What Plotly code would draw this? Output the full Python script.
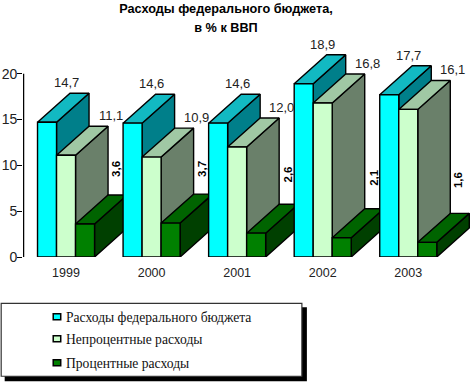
import plotly.graph_objects as go

years = ["1999", "2000", "2001", "2002", "2003"]
total = [14.7, 14.6, 14.6, 18.9, 17.7]
nonint = [11.1, 10.9, 12.0, 16.8, 16.1]
interest = [3.6, 3.7, 2.6, 2.1, 1.6]
names = ["Расходы федерального бюджета", "Непроцентные расходы", "Процентные расходы"]
series = [total, nonint, interest]
front = ["#00FFFF", "#CCFFCC", "#008000"]
top = ["#12B9C2", "#A0C8A4", "#006400"]
side = ["#007F8A", "#6A806A", "#004000"]
BW = 0.2222
DX = 0.38
DY = 3.16
OUT = dict(color="#000000", width=1.4)
L, R, T, B = 23.3, 472.0, 36.6, 256.7
YMAX = 24
XMIN, XMAX = -0.503, 4.745


def px(x):
    return (x - L) / (R - L)


def py(y):
    return (B - y) / (B - T)


def fmt(v):
    return f"{v:.1f}".replace(".", ",")


def poly(xs, ys, color):
    return go.Scatter(x=xs + xs[:1], y=ys + ys[:1], mode="lines", fill="toself", fillcolor=color,
                      line=OUT, hoverinfo="skip", showlegend=False)


fig = go.Figure()
fig.add_trace(go.Scatter(x=[XMIN, XMIN], y=[0, 20], mode="lines", line=dict(color="#000000", width=2.5),
                         hoverinfo="skip", showlegend=False))
annotations = []
for g in range(len(years)):
    for s in range(3):
        v = series[s][g]
        x0 = g + (s - 1.5) * BW
        x1 = x0 + BW
        fig.add_trace(poly([x1, x1 + DX, x1 + DX, x1], [0, DY, v + DY, v], side[s]))
        fig.add_trace(poly([x0, x1, x1 + DX, x0 + DX], [v, v, v + DY, v + DY], top[s]))
        fig.add_trace(poly([x0, x1, x1, x0], [0, 0, v, v], front[s]))
    annotations.append(dict(x=g, y=total[g] + DY, text=fmt(total[g]), yshift=10.5, showarrow=False,
                            yanchor="middle", font=dict(size=13, color="#222222")))
    annotations.append(dict(x=g + 0.52, y=nonint[g] + DY, text=fmt(nonint[g]), yshift=10.5, showarrow=False,
                            yanchor="middle", font=dict(size=13, color="#222222")))
    annotations.append(dict(x=g + 0.59, y=7.4 + 0.6 * interest[g], text="<b>" + fmt(interest[g]) + "</b>",
                            textangle=-90, showarrow=False, font=dict(size=11.5, color="#000000")))

shapes = [
    dict(type="rect", xref="paper", yref="paper", x0=px(5), x1=px(307), y0=py(381), y1=py(307),
         fillcolor="#000000", line=dict(width=0), layer="above"),
    dict(type="rect", xref="paper", yref="paper", x0=px(1.5), x1=px(302), y0=py(376), y1=py(303),
         fillcolor="#FFFFFF", line=dict(color="#333333", width=1.2), layer="above"),
]
for s, yc in enumerate([316.5, 338.5, 362.5]):
    shapes.append(dict(type="rect", xref="paper", yref="paper", x0=px(53.5), x1=px(61), y0=py(yc + 3), y1=py(yc - 3),
                       fillcolor=front[s], line=dict(color="#000000", width=1.5), layer="above"))
    annotations.append(dict(xref="paper", yref="paper", x=px(64), y=py(yc + 0.5), xanchor="left", yanchor="middle",
                            text=names[s], showarrow=False,
                            font=dict(family="Liberation Serif, serif", size=13.6, color="#111111")))

title_span = '<span style="font-size:12.7px">'
fig.update_layout(
    width=472, height=383, margin=dict(l=L, r=472 - R, t=T, b=383 - B, autoexpand=False),
    paper_bgcolor="#FFFFFF", plot_bgcolor="rgba(0,0,0,0)",
    font=dict(family="Liberation Sans, Arial, sans-serif", color="#222222"),
    title=dict(text=f"<b>{title_span}Расходы федерального бюджета,</span><br>{title_span}в % к ВВП</span></b>",
               x=226 / 472, xanchor="center", y=0.970, yanchor="top", pad=dict(t=2),
               font=dict(size=14.6, color="#000000")),
    xaxis=dict(range=[XMIN, XMAX], tickmode="array", tickvals=list(range(5)), ticktext=years,
               showgrid=False, zeroline=False, showline=False, ticks="", ticklabelstandoff=6,
               tickfont=dict(size=12.5, color="#222222")),
    yaxis=dict(range=[0, YMAX], tickmode="array", tickvals=[0, 5, 10, 15, 20], showgrid=False, zeroline=False,
               showline=False, ticks="outside", ticklen=5, tickcolor="#000000", ticklabelstandoff=-3,
               tickwidth=1.2, tickfont=dict(size=14, color="#222222")),
    annotations=annotations,
    shapes=shapes,
    showlegend=False,
)
fig.write_html("out.html", post_script="document.body.style.margin='0';", config={"displayModeBar": False})
